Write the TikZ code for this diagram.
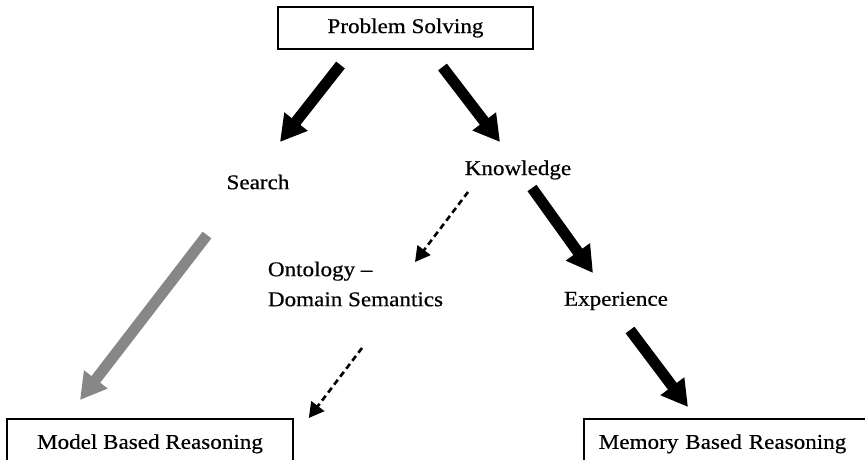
\documentclass[tikz,border=0pt]{standalone}
\usepackage{fontspec}
\setmainfont[FakeStretch=1.1,FakeBold=0.5]{Liberation Serif}
\usetikzlibrary{arrows.meta,calc}
\definecolor{arrgray}{RGB}{135,135,135}
\begin{document}
\begin{tikzpicture}[x=1pt,y=-1pt,
  lbl/.style={font=\fontsize{21}{30}\selectfont, inner sep=0pt},
  boxnode/.style={lbl, draw, line width=1.6pt},
  bigarrow/.style={line width=11pt, -{Triangle[length=26pt,width=28pt]}},
  grayarrow/.style={bigarrow, draw=arrgray, fill=arrgray},
  dasharrow/.style={line width=2.6pt, dash pattern=on 6pt off 4pt, -{Triangle[length=15pt,width=16pt]}}
]
\useasboundingbox (0,0) rectangle (865,459);
\clip (0,0) rectangle (865,459);
\fill[white] (0,0) rectangle (865,459);

\node[boxnode, minimum width=255pt, minimum height=42pt] (ps) at (405.5,28) {Problem Solving};
\node[lbl] (search) at (258,182) {Search};
\node[lbl] (know) at (518,170) {Knowledge};
\node[lbl, align=left] (onto) at (355.5,284) {Ontology --\\Domain Semantics};
\node[lbl] (exp) at (616,301) {Experience};
\node[boxnode, anchor=north, minimum width=286pt, minimum height=50pt] (model) at (150,418) {Model Based Reasoning};
\node[boxnode, anchor=north west, text width=270pt, inner xsep=15pt, minimum height=50pt, align=left] (mem) at (583,418) {Memory Based Reasoning};

\draw[bigarrow] ($(ps)+(-65,37)$) -- ($(search)+(22,-40)$);
\draw[bigarrow] ($(ps)+(37,39)$) -- ($(know)+(-18,-28)$);
\draw[dasharrow] ($(know)+(-50,22)$) -- ($(onto)+(59.5,-22)$);
\draw[dasharrow] ($(onto)+(6.5,64)$) -- ($(model.north east)+(15,0)$);
\draw[grayarrow] ($(search)+(-51,53)$) -- ($(model.north)+(-70,-18)$);
\draw[bigarrow] ($(know)+(14,18)$) -- ($(exp)+(-23,-28)$);
\draw[bigarrow] ($(exp)+(14,29)$) -- ($(mem.north west)+(105,-11)$);
\end{tikzpicture}
\end{document}
